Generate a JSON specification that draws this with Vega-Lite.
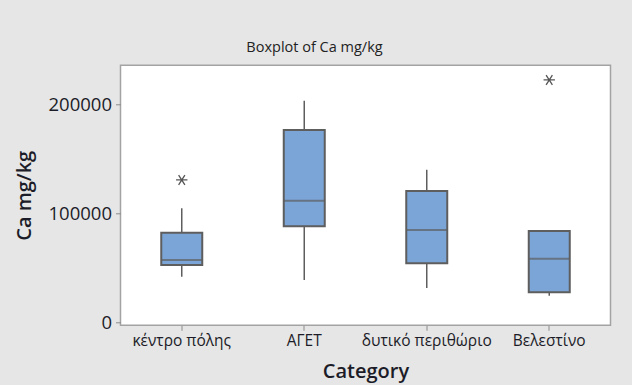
{
  "$schema": "https://vega.github.io/schema/vega-lite/v6.json",
  "autosize": {"type": "none"},
  "padding": {"left": 120.5, "top": 65.3, "right": 21.5, "bottom": 59.7},
  "width": 490,
  "height": 260,
  "background": "#e6e6e6",
  "title": {
    "text": "Boxplot of Ca mg/kg",
    "anchor": "middle",
    "dx": -51,
    "offset": 10,
    "font": "Open Sans",
    "fontSize": 14.5,
    "fontWeight": 500,
    "color": "#222222"
  },
  "datasets": {
    "stats": [
      {"Category": "κέντρο πόλης", "lower": 42100, "q1": 52800, "median": 57400, "q3": 82400, "upper": 104800},
      {"Category": "ΑΓΕΤ", "lower": 39100, "q1": 88300, "median": 111700, "q3": 176500, "upper": 203300},
      {"Category": "δυτικό περιθώριο", "lower": 31800, "q1": 54400, "median": 84900, "q3": 120600, "upper": 140100},
      {"Category": "Βελεστίνο", "lower": 24700, "q1": 27800, "median": 58600, "q3": 84000, "upper": 84000}
    ],
    "outliers": [
      {"Category": "κέντρο πόλης", "value": 130700},
      {"Category": "Βελεστίνο", "value": 222300}
    ]
  },
  "config": {
    "view": {"fill": "white", "stroke": "#a3a3a3", "strokeWidth": 1.5},
    "axis": {
      "domain": false,
      "grid": false,
      "tickColor": "#8c8c8c",
      "tickSize": 5,
      "labelFont": "Open Sans",
      "titleFont": "Open Sans",
      "labelColor": "#1c1c28",
      "titleColor": "#1c1c28",
      "labelFontWeight": 500,
      "titleFontWeight": 600
    }
  },
  "layer": [
    {
      "data": {"name": "stats"},
      "mark": {"type": "rule", "color": "#5e5e5e", "strokeWidth": 1.5},
      "encoding": {
        "x": {
          "field": "Category",
          "type": "nominal",
          "sort": ["κέντρο πόλης", "ΑΓΕΤ", "δυτικό περιθώριο", "Βελεστίνο"],
          "scale": {"paddingInner": 0, "paddingOuter": 0},
          "axis": {
            "labelAngle": 0,
            "labelFontSize": 15.5,
            "labelPadding": 3,
            "title": "Category",
            "titleFontSize": 20,
            "titlePadding": 13
          }
        },
        "y": {
          "field": "lower",
          "type": "quantitative",
          "scale": {"domain": [-2380, 235700], "nice": false, "zero": false},
          "axis": {
            "values": [0, 100000, 200000],
            "format": "d",
            "labelFontSize": 18.5,
            "labelPadding": 4,
            "title": "Ca mg/kg",
            "titleFontSize": 20,
            "titlePadding": 14
          }
        },
        "y2": {"field": "upper"}
      }
    },
    {
      "data": {"name": "stats"},
      "mark": {"type": "bar", "size": 41, "fill": "#7ba4d7", "stroke": "#5e5e5e", "strokeWidth": 2},
      "encoding": {
        "x": {"field": "Category", "type": "nominal", "sort": ["κέντρο πόλης", "ΑΓΕΤ", "δυτικό περιθώριο", "Βελεστίνο"]},
        "y": {"field": "q1", "type": "quantitative"},
        "y2": {"field": "q3"}
      }
    },
    {
      "data": {"name": "stats"},
      "mark": {"type": "tick", "size": 41, "thickness": 2, "color": "#5e5e5e"},
      "encoding": {
        "x": {"field": "Category", "type": "nominal", "sort": ["κέντρο πόλης", "ΑΓΕΤ", "δυτικό περιθώριο", "Βελεστίνο"]},
        "y": {"field": "median", "type": "quantitative"}
      }
    },
    {
      "data": {"name": "outliers"},
      "mark": {
        "type": "point",
        "shape": "M-1,0H1M-0.55,-0.85L0.55,0.85M-0.55,0.85L0.55,-0.85",
        "filled": false,
        "size": 130,
        "stroke": "#555555",
        "strokeWidth": 1.3,
        "opacity": 1
      },
      "encoding": {
        "x": {"field": "Category", "type": "nominal", "sort": ["κέντρο πόλης", "ΑΓΕΤ", "δυτικό περιθώριο", "Βελεστίνο"]},
        "y": {"field": "value", "type": "quantitative"}
      }
    }
  ]
}
